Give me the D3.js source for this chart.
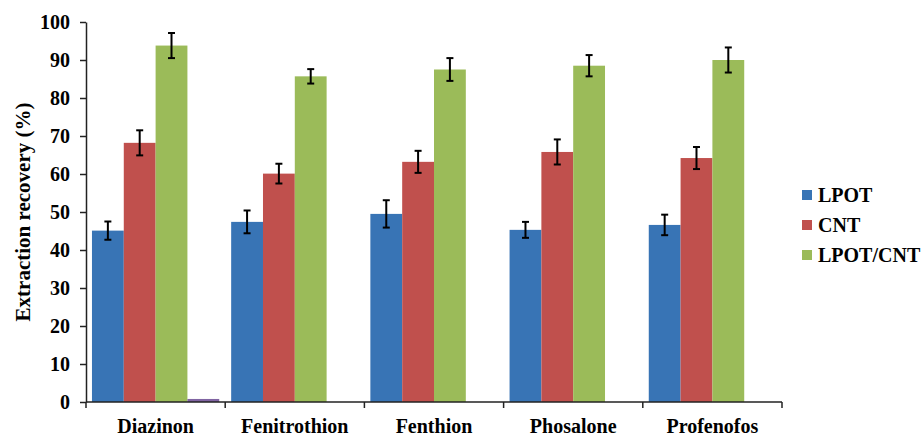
<!DOCTYPE html>
<html>
<head>
<meta charset="utf-8">
<script src="https://cdn.jsdelivr.net/npm/d3@7"></script>
<style>
  html, body { margin: 0; padding: 0; background: #fff; }
  svg text { font-family: "Liberation Serif", "Times New Roman", serif; font-weight: bold; fill: #000; }
</style>
</head>
<body>
<svg id="chart" width="923" height="437"></svg>
<script>
const categories = ["Diazinon", "Fenitrothion", "Fenthion", "Phosalone", "Profenofos"];
const lpot = [45.1, 47.4, 49.5, 45.3, 46.6];
const lpotErr = [2.4, 3.0, 3.6, 2.1, 2.7];
const cnt = [68.2, 60.1, 63.2, 65.8, 64.2];
const cntErr = [3.3, 2.6, 2.9, 3.3, 2.9];
const lpotCnt = [93.8, 85.7, 87.5, 88.5, 90.0];
const lpotCntErr = [3.3, 1.9, 3.0, 2.8, 3.3];
const extra = [0.8, 0, 0, 0, 0];
const yTicks = [0, 10, 20, 30, 40, 50, 60, 70, 80, 90, 100];
const colors = ["#3874B5", "#C0504D", "#9BBB59", "#8064A2"];
const legendNames = ["LPOT", "CNT", "LPOT/CNT"];

const values = [lpot, cnt, lpotCnt, extra];
const errors = [lpotErr, cntErr, lpotCntErr, null];

const svg = d3.select("#chart");
const mLeft = 86, mRight = 782, mTop = 22, mBottom = 402;

const x = d3.scaleBand().domain(categories).range([mLeft, mRight]).paddingInner(0).paddingOuter(0);
const x1 = d3.scaleBand().domain(d3.range(4)).range([0, x.bandwidth()]).paddingInner(0).paddingOuter(0.1875);
const y = d3.scaleLinear().domain([0, 100]).range([mBottom, mTop]);

// bars
values.forEach((vals, si) => {
  svg.append("g").selectAll("rect").data(vals).join("rect")
    .attr("x", (d, i) => x(categories[i]) + x1(si))
    .attr("y", d => y(d))
    .attr("width", x1.bandwidth())
    .attr("height", d => y(0) - y(d))
    .attr("fill", colors[si]);
});

// error bars
errors.forEach((errs, si) => {
  if (!errs) return;
  const g = svg.append("g").attr("stroke", "#000").attr("stroke-width", 2);
  values[si].forEach((v, i) => {
    const cx = x(categories[i]) + x1(si) + x1.bandwidth() / 2;
    const y1 = y(v + errs[i]), y2 = y(v - errs[i]);
    g.append("line").attr("x1", cx).attr("x2", cx).attr("y1", y1).attr("y2", y2);
    g.append("line").attr("x1", cx - 3.5).attr("x2", cx + 3.5).attr("y1", y1).attr("y2", y1);
    g.append("line").attr("x1", cx - 3.5).attr("x2", cx + 3.5).attr("y1", y2).attr("y2", y2);
  });
});

// y axis
const yAxis = d3.axisLeft(y).tickValues(yTicks).tickSize(6).tickPadding(10).tickSizeOuter(0);
const yg = svg.append("g").attr("transform", `translate(${mLeft},0)`).call(yAxis);
yg.select(".domain").attr("stroke", "#222").attr("stroke-width", 1.5);
yg.selectAll(".tick line").attr("stroke", "#222").attr("stroke-width", 1.5);
yg.selectAll(".tick text").style("font-size", "20px").style("font-family", "Liberation Serif, serif").style("font-weight", "bold").attr("fill", "#000");

// x axis
const xg = svg.append("g").attr("transform", `translate(0,${mBottom})`);
xg.append("line").attr("x1", mLeft).attr("x2", mRight).attr("y1", 0).attr("y2", 0)
  .attr("stroke", "#222").attr("stroke-width", 1.5);
const boundaries = categories.map(c => x(c)).concat([mRight]);
xg.selectAll("line.tk").data(boundaries).join("line").attr("class", "tk")
  .attr("x1", d => d).attr("x2", d => d).attr("y1", 0).attr("y2", 6)
  .attr("stroke", "#222").attr("stroke-width", 1.5);
xg.selectAll("text").data(categories).join("text")
  .attr("x", d => x(d) + x.bandwidth() / 2)
  .attr("y", 31)
  .attr("text-anchor", "middle")
  .style("font-size", "20px")
  .text(d => d);

// y title
svg.append("text")
  .attr("transform", `translate(30,${(mTop + mBottom) / 2}) rotate(-90)`)
  .attr("text-anchor", "middle")
  .style("font-size", "21px")
  .text("Extraction recovery (%)");

// legend
const lg = svg.append("g");
legendNames.forEach((n, i) => {
  const cy = 195 + i * 30;
  lg.append("rect").attr("x", 802).attr("y", cy - 5).attr("width", 10).attr("height", 10).attr("fill", colors[i]);
  lg.append("text").attr("x", 818).attr("y", cy).attr("dy", "0.35em").style("font-size", "20px").text(n);
});
</script>
</body>
</html>
